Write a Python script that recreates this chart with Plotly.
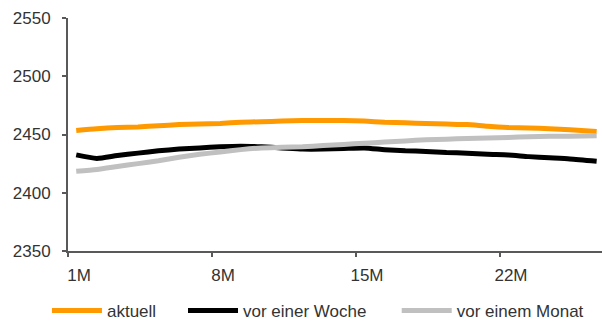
import plotly.graph_objects as go

# Laufzeit in Monaten (Stützstellen der Kurven)
laufzeit = [1.4, 2.4, 3.4, 4.4, 5.4, 6.4, 7.4, 8.4, 9.4, 10.4, 11.4, 12.4, 13.4,
            14.4, 15.4, 16.4, 17.4, 18.4, 19.4, 20.4, 21.4, 22.4, 23.4, 24.4,
            25.4, 26.7]

aktuell = [2453.5, 2455, 2456, 2456.5, 2457.5, 2458.5, 2459, 2459.5, 2460.5,
           2461, 2461.5, 2462, 2462, 2462, 2461.5, 2460.5, 2460, 2459.5,
           2459, 2458.5, 2457, 2456, 2455.5, 2455, 2454, 2452.5]

vor_einer_woche = [2432.5, 2429.5, 2432, 2434, 2436, 2437.5, 2438.5, 2439.5,
                   2440, 2439.5, 2438.5, 2437.5, 2437.5, 2438, 2438.5, 2437,
                   2436, 2435.5, 2434.5, 2434, 2433, 2432.5, 2431, 2430, 2429,
                   2427]

vor_einem_monat = [2418.5, 2420, 2422.5, 2425, 2427.5, 2430.5, 2433, 2435,
                   2437, 2438.5, 2439, 2439.5, 2440.5, 2441.5, 2442.5, 2443.5,
                   2444.5, 2445.5, 2446, 2446.5, 2447, 2447.5, 2448, 2448.5,
                   2448.5, 2449]

x_ticks = [1, 8, 15, 22]
x_labels = ["1M", "8M", "15M", "22M"]
y_ticks = [2350, 2400, 2450, 2500, 2550]

FONT = "Liberation Sans, Arial, sans-serif"
TXT = "#333333"
AXIS = "#595959"

series = [
    ("aktuell", aktuell, "#FF9900", "legend", 0.078),
    ("vor einer Woche", vor_einer_woche, "#000000", "legend2", 0.304),
    ("vor einem Monat", vor_einem_monat, "#C0C0C0", "legend3", 0.659),
]

fig = go.Figure()
for name, vals, color, leg, _ in series:
    fig.add_trace(go.Scatter(
        x=laufzeit, y=vals, name=name, mode="lines",
        line=dict(color=color, width=5, shape="spline", smoothing=0.6),
        legend=leg,
    ))

legend_common = dict(
    orientation="h", xref="container", yref="container",
    xanchor="left", yanchor="middle", y=0.04,
    font=dict(family=FONT, size=17, color=TXT),
    itemwidth=50, bgcolor="rgba(0,0,0,0)", borderwidth=0,
)
legends = {}
for _, _, _, leg, lx in series:
    legends[leg] = dict(legend_common, x=lx)

fig.update_layout(
    width=602, height=324,
    margin=dict(l=68, r=0, t=18, b=73),
    paper_bgcolor="white", plot_bgcolor="white",
    font=dict(family=FONT, size=17, color=TXT),
    showlegend=True,
    **legends,
)

fig.update_xaxes(
    range=[1, 26.96], tickvals=x_ticks, ticktext=x_labels,
    showgrid=False, zeroline=False,
    showline=True, linecolor=AXIS, linewidth=2,
    ticks="outside", ticklen=4, tickwidth=2, tickcolor=AXIS,
    tickfont=dict(family=FONT, size=17, color=TXT),
    ticklabelshift=11, ticklabelstandoff=4,
)
fig.update_yaxes(
    range=[2350, 2550], tickvals=y_ticks,
    showgrid=False, zeroline=False,
    showline=True, linecolor=AXIS, linewidth=2,
    ticks="outside", ticklen=4, tickwidth=2, tickcolor=AXIS,
    tickfont=dict(family=FONT, size=17, color=TXT),
    ticklabelstandoff=8,
)

fig.write_html("out.html")
